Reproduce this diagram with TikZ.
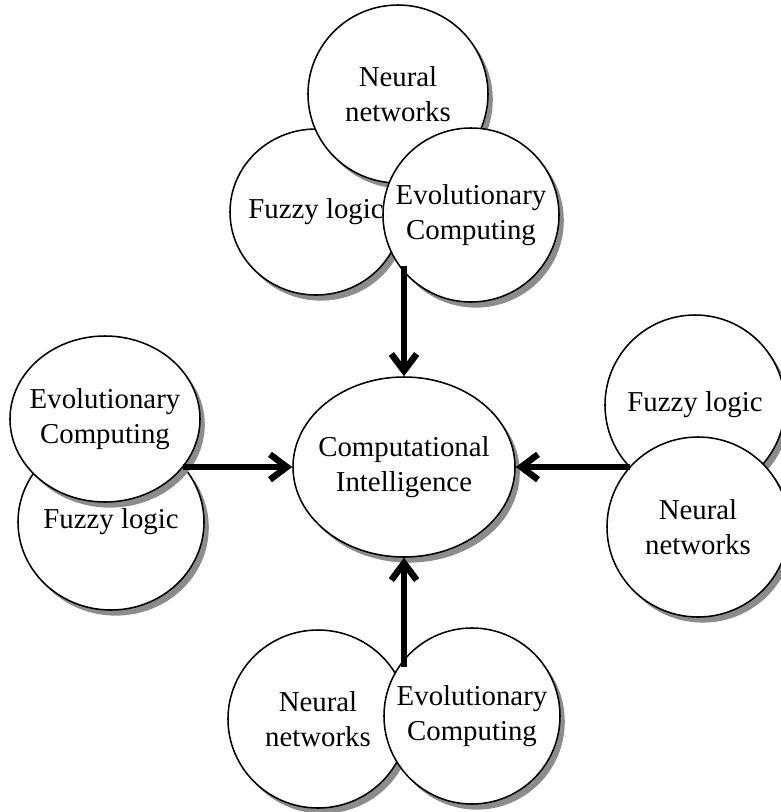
\documentclass[tikz,border=0pt]{standalone}
\usepackage{fontspec}
\setmainfont{Liberation Serif}
\usepackage{tikz}
\usetikzlibrary{shapes.geometric,shadows,arrows.meta}
\tikzset{blob/.style={ellipse, draw, line width=1.1pt, fill=white, inner sep=0pt,
    drop shadow={shadow xshift=0.12cm, shadow yshift=-0.14cm, fill=black!45, opacity=1}},
  blobtext/.style={align=center, inner sep=0pt, font=\fontsize{20.5}{24.5}\selectfont},
  arr/.style={line width=4.6pt, -{Straight Barb[length=12pt,width=18pt]}}}
\newcommand*{\Blob}[6]{\node[blob, minimum width=#4*0.025cm,
    minimum height=#5*0.025cm, label={[blobtext]center:#6}] (#1) at (#2,#3) {};}

\begin{document}
\begin{tikzpicture}[x=0.025cm,y=-0.025cm]
    \useasboundingbox (0,0) rectangle (781,812);
    \Blob{tfl}{316}{212}{172}{166}{Fuzzy logic}
    \Blob{tnn}{398}{94}{180}{178}{Neural\\networks}
    \Blob{tec}{471}{215}{176}{174}{Evolutionary\\Computing}
    \Blob{ci}{404}{467}{222}{180}{Computational\\Intelligence}
    \Blob{lfl}{111}{522}{186}{176}{Fuzzy logic}
    \Blob{lec}{105}{419}{190}{166}{Evolutionary\\Computing}
    \Blob{rfl}{695}{405}{180}{180}{Fuzzy logic}
    \Blob{rnn}{698}{527}{182}{180}{Neural\\networks}
    \Blob{bnn}{318}{719}{180}{178}{Neural\\networks}
    \Blob{bec}{472}{716}{176}{176}{Evolutionary\\Computing}
    \coordinate (tjoin) at (404,266);
    \coordinate (ljoin) at (183,467);
    \coordinate (rjoin) at (630,467);
    \coordinate (bjoin) at (404,667);
    \draw[arr] (tjoin) -- (ci);
    \draw[arr] (ljoin) -- (ci);
    \draw[arr] (rjoin) -- (ci);
    \draw[arr] (bjoin) -- (ci);
\end{tikzpicture}
\end{document}
